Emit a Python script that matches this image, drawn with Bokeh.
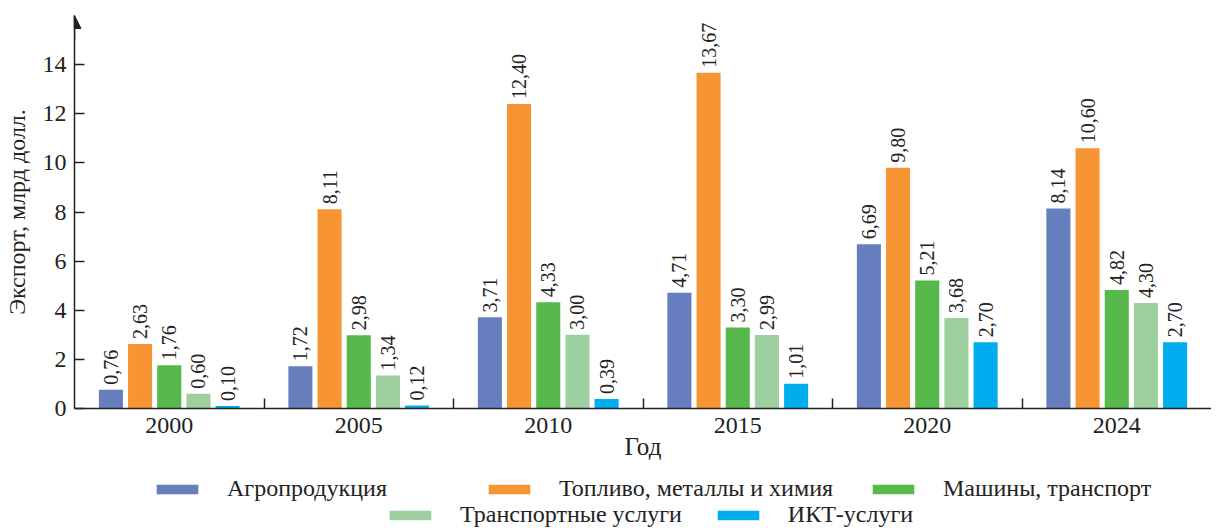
from bokeh.plotting import figure
from bokeh.layouts import column
from bokeh.models import (Range1d, FixedTicker, Legend, LegendItem, LabelSet,
                          ColumnDataSource, Arrow, NormalHead)
from bokeh.embed import file_html
from bokeh.resources import INLINE

years = ["2000", "2005", "2010", "2015", "2020", "2024"]
series_names = ["Агропродукция", "Топливо, металлы и химия", "Машины, транспорт",
                "Транспортные услуги", "ИКТ-услуги"]
agro = [0.76, 1.72, 3.71, 4.71, 6.69, 8.14]
fuel = [2.63, 8.11, 12.40, 13.67, 9.80, 10.60]
machines = [1.76, 2.98, 4.33, 3.30, 5.21, 4.82]
transport = [0.60, 1.34, 3.00, 2.99, 3.68, 4.30]
ict = [0.10, 0.12, 0.39, 1.01, 2.70, 2.70]
series_values = [agro, fuel, machines, transport, ict]
colors = ["#667EBE", "#F79433", "#57B94C", "#9DD09E", "#00AEEF"]
y_ticks = [0, 2, 4, 6, 8, 10, 12, 14]

FONT = "Liberation Serif"
n = len(years)
step = 0.154
bar_w = 0.127
LEFT = 74
FW = 1137

p = figure(output_backend="svg", toolbar_location=None,
           x_range=Range1d(0, n), y_range=Range1d(0, 16),
           frame_width=FW, frame_height=393,
           min_border_left=LEFT, min_border_top=15, min_border_right=0,
           min_border_bottom=0)
p.outline_line_color = None
p.xgrid.visible = False
p.ygrid.visible = False

renderers = []
for j, (vals, col) in enumerate(zip(series_values, colors)):
    xs = [i + 0.5 + (j - 2) * step for i in range(n)]
    src = ColumnDataSource(dict(x=xs, top=vals,
                                lbl=[f"{v:.2f}".replace(".", ",") for v in vals]))
    r = p.vbar(x="x", top="top", width=bar_w, bottom=0, source=src,
               fill_color=col, line_color=None)
    renderers.append(r)
    ls = LabelSet(x="x", y="top", text="lbl", source=src, angle=1.5708,
                  text_align="left", text_baseline="middle", y_offset=5,
                  text_font=FONT, text_font_size="20px", text_color="#222222")
    p.add_layout(ls)

xa = p.xaxis[0]
xa.ticker = FixedTicker(ticks=[i + 0.5 for i in range(n)],
                        minor_ticks=[i for i in range(1, n)])
xa.major_label_overrides = {i + 0.5: y for i, y in enumerate(years)}
xa.major_tick_in = 0
xa.major_tick_out = 0
xa.minor_tick_in = 10
xa.minor_tick_out = 0
xa.minor_tick_line_color = "#222222"
xa.minor_tick_line_width = 1.5
xa.axis_line_color = "#222222"
xa.axis_line_width = 1.5
xa.major_label_text_font = FONT
xa.major_label_text_font_size = "24px"
xa.major_label_text_color = "#222222"
xa.major_label_standoff = 9
xa.axis_label = "Год"
xa.axis_label_text_font = FONT
xa.axis_label_text_font_size = "25px"
xa.axis_label_text_font_style = "normal"
xa.axis_label_text_color = "#222222"
xa.axis_label_standoff = -3

ya = p.yaxis[0]
ya.ticker = FixedTicker(ticks=y_ticks, minor_ticks=[])
ya.major_tick_in = 10
ya.major_tick_out = 0
ya.major_tick_line_width = 1.5
ya.major_tick_line_color = "#222222"
ya.axis_line_color = "#222222"
ya.axis_line_width = 1.5
ya.major_label_text_font = FONT
ya.major_label_text_font_size = "24px"
ya.major_label_text_color = "#222222"
ya.major_label_standoff = 8
ya.axis_label = "Экспорт, млрд долл."
ya.axis_label_text_font = FONT
ya.axis_label_text_font_size = "24px"
ya.axis_label_text_font_style = "normal"
ya.axis_label_text_color = "#222222"
ya.axis_label_standoff = 10

p.add_layout(Arrow(x_start=0, y_start=15, x_end=0, y_end=16,
                   line_color="#222222", line_width=1.5,
                   end=NormalHead(size=13, fill_color="#222222", line_color="#222222")))

# legend figure
lf = figure(output_backend="svg", toolbar_location=None,
            frame_width=LEFT + FW, frame_height=66,
            x_range=Range1d(0, 1), y_range=Range1d(0, 1),
            min_border=0)
lf.axis.visible = False
lf.grid.visible = False
lf.outline_line_color = None
leg_r = []
for col in colors:
    leg_r.append(lf.vbar(x=[0.5], top=[0], bottom=[0], width=0.1,
                         fill_color=col, line_color=None))

def make_legend(idx, spacing, loc, label_width):
    return Legend(items=[LegendItem(label=series_names[k], renderers=[leg_r[k]]) for k in idx],
                  orientation="horizontal", location=loc,
                  glyph_width=52, glyph_height=12, label_standoff=24, spacing=spacing,
                  label_width=label_width,
                  label_text_font=FONT, label_text_font_size="24px",
                  label_text_color="#222222",
                  border_line_color=None, background_fill_alpha=0,
                  padding=0, margin=0, label_height=20)

lf.add_layout(make_legend([0, 1, 2], 34, (151, 26), 222))
lf.add_layout(make_legend([3, 4], 30, (384, 0), 0))

layout = column(p, lf, spacing=0)
open("out.html", "w").write(file_html(layout, INLINE))
